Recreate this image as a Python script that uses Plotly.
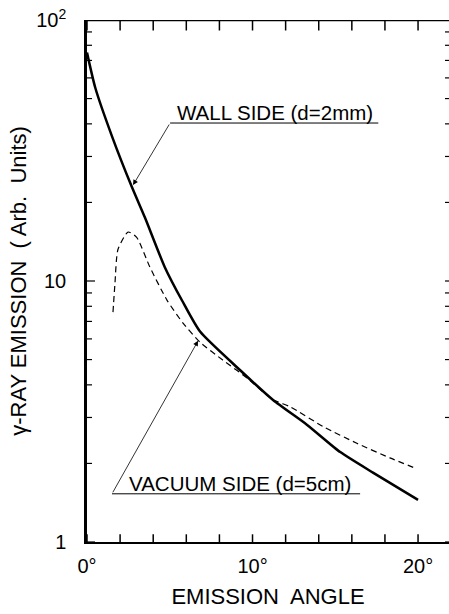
import math
import plotly.graph_objects as go

# ---- data ----
wall_angle = [0, 0.5, 1.5, 2.7, 3.5, 4.7, 5.75, 6.83, 9.24, 11.24, 13.3, 15.3, 17.3, 20]
wall_emission = [75, 55, 36, 23, 17.5, 11.3, 8.4, 6.4, 4.56, 3.5, 2.81, 2.21, 1.84, 1.45]

vac_angle = [1.57, 1.69, 1.87, 2.48, 3.0, 3.8, 4.83, 5.8, 6.83, 8.2, 9.67, 11.2, 12.3, 14.3, 16.3, 18.3, 19.9]
vac_emission = [7.6, 9.8, 13.2, 15.4, 14.7, 11.3, 8.45, 6.9, 5.83, 4.98, 4.25, 3.52, 3.29, 2.76, 2.39, 2.10, 1.91]

x_ticks = [0, 2, 4, 6, 8, 10, 12, 14, 16, 18, 20]
x_tick_text = ["0°", "", "", "", "", "10°", "", "", "", "", "20°"]
y_ticks = [1, 2, 3, 4, 5, 6, 7, 8, 9, 10, 20, 30, 40, 50, 60, 70, 80, 90, 100]
y_tick_text = ["1", "", "", "", "", "", "", "", "", "10", "", "", "", "", "", "", "", "", "10<sup>2</sup>"]

FONT = "Liberation Sans"
X_MAX = 21.87
Y_MIN, Y_MAX = 1, 100

fig = go.Figure()
fig.add_trace(go.Scatter(x=wall_angle, y=wall_emission, mode="lines",
                         line=dict(color="black", width=2.5, shape="spline", smoothing=0.6),
                         hoverinfo="skip", showlegend=False))
fig.add_trace(go.Scatter(x=vac_angle, y=vac_emission, mode="lines",
                         line=dict(color="black", width=1.2, dash="6px,4px", shape="spline", smoothing=0.6),
                         hoverinfo="skip", showlegend=False))

# frame top edge
fig.add_trace(go.Scatter(x=[0, X_MAX], y=[Y_MAX, Y_MAX], mode="lines", cliponaxis=False,
                         line=dict(color="black", width=2.5), hoverinfo="skip", showlegend=False))
# x tick marks (inside only: outer half of each marker clipped by the plot area)
fig.add_trace(go.Scatter(x=x_ticks, y=[Y_MIN] * len(x_ticks), mode="markers", cliponaxis=True,
                         marker=dict(symbol="line-ns", size=11, color="black",
                                     line=dict(color="black", width=1.5)),
                         hoverinfo="skip", showlegend=False))
fig.add_trace(go.Scatter(x=x_ticks, y=[Y_MAX] * len(x_ticks), mode="markers", cliponaxis=True,
                         marker=dict(symbol="line-ns", size=15, color="black",
                                     line=dict(color="black", width=1.5)),
                         hoverinfo="skip", showlegend=False))

fig.update_layout(
    width=449, height=614,
    margin=dict(l=87, r=0, t=20, b=72, autoexpand=False),
    paper_bgcolor="white", plot_bgcolor="white",
    font=dict(family=FONT, color="black", size=19),
    showlegend=False,
    xaxis=dict(range=[0, X_MAX], showgrid=False, zeroline=False, automargin=False,
               showline=True, linecolor="black", linewidth=2,
               ticks="", tickmode="array", tickvals=x_ticks, ticktext=x_tick_text,
               tickfont=dict(size=20), ticklabelstandoff=5,
               title=dict(text="EMISSION  ANGLE", font=dict(size=22), standoff=13)),
    yaxis=dict(type="log", range=[math.log10(Y_MIN), math.log10(Y_MAX)], showgrid=False,
               zeroline=False, automargin=False,
               showline=True, linecolor="black", linewidth=2.5,
               ticks="", tickmode="array", tickvals=y_ticks, ticktext=y_tick_text,
               tickfont=dict(size=20), ticklabelstandoff=14,
               title=dict(text="γ-RAY EMISSION  ( Arb.  Units)", font=dict(size=22), standoff=4)),
)

# y tick marks (left and right, inside)
tick_style = dict(color="black", width=1.2)
for v in y_ticks:
    ln = 8 if v in (1, 10, 100) else 5
    fig.add_shape(type="line", xref="paper", yref="y", y0=v, y1=v,
                  xsizemode="pixel", xanchor=0, x0=0, x1=ln, line=tick_style, layer="above")
    fig.add_shape(type="line", xref="paper", yref="y", y0=v, y1=v,
                  xsizemode="pixel", xanchor=1, x0=-4, x1=0, line=tick_style, layer="above")

# labels with underline + leader arrow
wall_line_y = 40.3
vac_line_y = 1.53
fig.add_shape(type="line", xref="x", yref="y", x0=5.02, x1=17.6, y0=wall_line_y, y1=wall_line_y,
              line=dict(color="black", width=1))
fig.add_shape(type="line", xref="x", yref="y", x0=1.51, x1=16.5, y0=vac_line_y, y1=vac_line_y,
              line=dict(color="black", width=1))

fig.add_annotation(x=11.36, y=math.log10(wall_line_y), xref="x", yref="y", text="WALL SIDE (d=2mm)",
                   showarrow=False, yanchor="bottom", xanchor="center", font=dict(size=20.5), yshift=-3)
fig.add_annotation(x=9.24, y=math.log10(vac_line_y), xref="x", yref="y", text="VACUUM SIDE (d=5cm)",
                   showarrow=False, yanchor="bottom", xanchor="center", font=dict(size=20.5), yshift=-3)

fig.add_annotation(x=2.78, y=math.log10(23.3), xref="x", yref="y",
                   ax=5.02, ay=math.log10(wall_line_y), axref="x", ayref="y",
                   text="", showarrow=True, arrowhead=2, arrowsize=1.3, arrowwidth=0.8,
                   arrowcolor="black", standoff=0, startstandoff=0)
fig.add_annotation(x=6.71, y=math.log10(5.9), xref="x", yref="y",
                   ax=1.51, ay=math.log10(vac_line_y), axref="x", ayref="y",
                   text="", showarrow=True, arrowhead=2, arrowsize=1.3, arrowwidth=0.8,
                   arrowcolor="black", standoff=0, startstandoff=0)

fig.write_html("out.html", config={"displayModeBar": False},
               post_script="document.body.style.margin='0';document.body.style.overflow='hidden';")
